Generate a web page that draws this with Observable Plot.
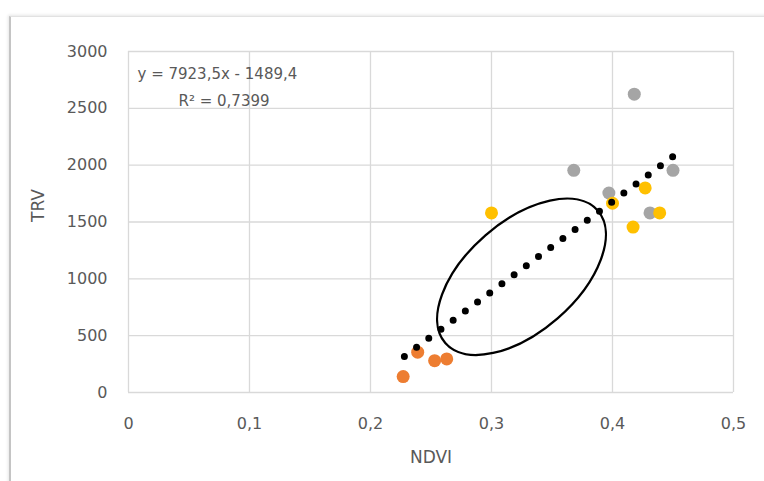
<!DOCTYPE html>
<html><head><meta charset="utf-8">
<script src="https://cdn.jsdelivr.net/npm/d3@7"></script>
<script src="https://cdn.jsdelivr.net/npm/@observablehq/plot@0.6"></script>
<style>
html,body{margin:0;padding:0;background:#fff;overflow:hidden;}
#wrap{position:relative;width:764px;height:481px;overflow:hidden;}
#frame{position:absolute;left:9px;top:16px;width:820px;height:540px;border-left:2px solid #c4c4c4;border-top:1px solid #e2e2e2;box-shadow:-1px -1px 3px rgba(0,0,0,0.10);}
#chart{position:absolute;left:0;top:0;}
</style></head><body>
<div id="wrap"><div id="frame"></div><div id="chart"></div></div>
<script>
// Data
const orangeNDVI = [0.227, 0.239, 0.253, 0.263];
const orangeTRV  = [140, 355, 280, 295];
const yellowNDVI = [0.300, 0.400, 0.427, 0.417, 0.439];
const yellowTRV  = [1580, 1665, 1800, 1455, 1580];
const grayNDVI   = [0.418, 0.368, 0.397, 0.431, 0.450];
const grayTRV    = [2625, 1955, 1755, 1580, 1955];
// Trendline (printed equation) and its extent
const slope = 7923.5, intercept = -1489.4;
const trendNDVI = [0.228, 0.452];
// Ticks and labels
const xTicks = [0, 0.1, 0.2, 0.3, 0.4, 0.5];
const yTicks = [0, 500, 1000, 1500, 2000, 2500, 3000];
const equationLabel = "y = 7923,5x - 1489,4";
const r2Label = "R\u00b2 = 0,7399";
const xTitle = "NDVI";
const yTitle = "TRV";
// Hand-drawn ellipse annotation centre
const ellipseNDVI = [0.3248];
const ellipseTRV = [1018];

const toRows = (xs, ys) => xs.map((x, i) => ({ndvi: x, trv: ys[i]}));
const orange = toRows(orangeNDVI, orangeTRV);
const yellow = toRows(yellowNDVI, yellowTRV);
const gray = toRows(grayNDVI, grayTRV);
const trend = trendNDVI.map(x => ({ndvi: x, trv: slope * x + intercept}));
const ellipse = toRows(ellipseNDVI, ellipseTRV);

const ellipseSymbol = {
  draw(ctx) {
    const a = 101, b = 55, k = 0.5523;
    ctx.moveTo(a, 0);
    ctx.bezierCurveTo(a, k * b, k * a, b, 0, b);
    ctx.bezierCurveTo(-k * a, b, -a, k * b, -a, 0);
    ctx.bezierCurveTo(-a, -k * b, -k * a, -b, 0, -b);
    ctx.bezierCurveTo(k * a, -b, a, -k * b, a, 0);
    ctx.closePath();
  }
};

const txt = "#595959";
const fmt = d => String(d).replace(".", ",");

const chart = Plot.plot({
  width: 764,
  height: 481,
  marginLeft: 128,
  marginRight: 31,
  marginTop: 51,
  marginBottom: 89,
  x: {domain: [0, 0.5]},
  y: {domain: [0, 3000]},
  style: {fontFamily: "DejaVu Sans", fontSize: "16px", color: txt, background: "transparent"},
  marks: [
    Plot.gridX(xTicks, {stroke: "#d9d9d9", strokeOpacity: 1, strokeWidth: 1.3}),
    Plot.gridY(yTicks, {stroke: "#d9d9d9", strokeOpacity: 1, strokeWidth: 1.3}),
    Plot.axisX(xTicks, {tickSize: 0, tickPadding: 25, tickFormat: fmt, label: null, fill: txt}),
    Plot.axisY(yTicks, {tickSize: 0, tickPadding: 21, tickFormat: d => String(d), label: null, fill: txt}),
    Plot.text([xTitle], {frameAnchor: "bottom", dy: 70, text: d => d, fill: txt, fontSize: 17}),
    Plot.text([yTitle], {frameAnchor: "left", dx: -90, rotate: -90, text: d => d, fill: txt, fontSize: 17}),
    Plot.text([equationLabel], {frameAnchor: "top-left", dx: 9, dy: 23, textAnchor: "start", lineAnchor: "middle", text: d => d, fill: txt, fontSize: 15}),
    Plot.text([r2Label], {frameAnchor: "top-left", dx: 50, dy: 50, textAnchor: "start", lineAnchor: "middle", text: d => d, fill: txt, fontSize: 15}),
    Plot.dot(orange, {x: "ndvi", y: "trv", r: 6.5, fill: "#ED7D31"}),
    Plot.dot(gray, {x: "ndvi", y: "trv", r: 6.5, fill: "#A5A5A5"}),
    Plot.dot(yellow, {x: "ndvi", y: "trv", r: 6.5, fill: "#FFC000"}),
    Plot.line(trend, {x: "ndvi", y: "trv", stroke: "black", strokeWidth: 7, strokeDasharray: "0 15.2", strokeLinecap: "round"}),
    Plot.dot(ellipse, {x: "ndvi", y: "trv", symbol: ellipseSymbol, r: 10, fill: "none", stroke: "black", strokeWidth: 2.3, rotate: -41})
  ]
});
document.getElementById("chart").appendChild(chart);
</script>
</body></html>
